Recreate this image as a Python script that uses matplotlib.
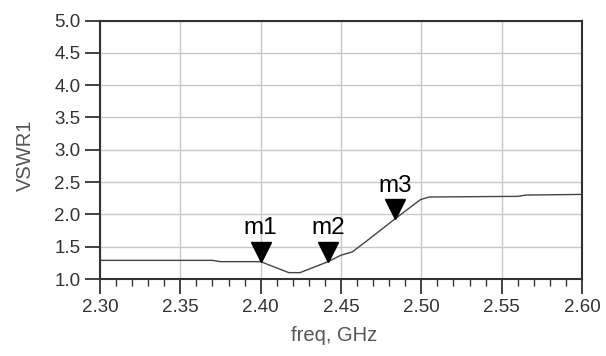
import matplotlib
matplotlib.use("Agg")
import matplotlib.pyplot as plt
from matplotlib.ticker import MultipleLocator
from matplotlib.transforms import offset_copy

plt.rcParams['font.family'] = ['Liberation Sans', 'DejaVu Sans']

# VSWR curve
freq = [2.300, 2.370, 2.375, 2.400, 2.4175, 2.4245, 2.442, 2.450, 2.457,
        2.466, 2.4835, 2.4995, 2.505, 2.560, 2.565, 2.600]
vswr = [1.29, 1.29, 1.27, 1.27, 1.10, 1.10, 1.27, 1.37, 1.42,
        1.59, 1.93, 2.23, 2.27, 2.28, 2.30, 2.31]

# markers
marker_names = ['m1', 'm2', 'm3']
marker_freq = [2.400, 2.442, 2.4835]
marker_vswr = [1.27, 1.27, 1.93]

x_ticks = [2.30, 2.35, 2.40, 2.45, 2.50, 2.55, 2.60]
y_ticks = [1.0, 1.5, 2.0, 2.5, 3.0, 3.5, 4.0, 4.5, 5.0]

fig = plt.figure(figsize=(6.06, 3.56), dpi=100)
ax = fig.add_axes([0.165, 0.216, 0.7954, 0.7264])

ax.plot(freq, vswr, color='#444444', lw=1.0, zorder=3)

# triangle tip sits on the curve, name above it
tri_tr = offset_copy(ax.transData, fig=fig, x=0, y=7, units='points')
for name, f, v in zip(marker_names, marker_freq, marker_vswr):
    ax.plot(f, v, marker='v', markersize=14, color='black',
            linestyle='none', transform=tri_tr, zorder=4)
    ax.annotate(name, xy=(f, v), xytext=(0, 16), textcoords='offset points',
                ha='center', va='bottom', fontsize=17.5, color='black', zorder=5)

ax.set_xlim(2.30, 2.60)
ax.set_ylim(1.0, 5.0)
ax.set_xticks(x_ticks)
ax.set_xticklabels(['%.2f' % t for t in x_ticks])
ax.set_yticks(y_ticks)
ax.set_yticklabels(['%.1f' % t for t in y_ticks])
ax.xaxis.set_minor_locator(MultipleLocator(0.01))

ax.grid(True, which='major', color='#c8c8c8', lw=1.0)
ax.set_axisbelow(True)

for s in ax.spines.values():
    s.set_color('#333333')
    s.set_linewidth(1.5)

ax.tick_params(axis='both', which='major', direction='out', length=11,
               width=1.3, color='#333333', labelsize=13.5, labelcolor='#333333',
               pad=3)
ax.tick_params(axis='x', which='minor', direction='out', length=5,
               width=1.0, color='#333333')

ax.set_xlabel('freq, GHz', fontsize=14.5, color='#555555', va='center')
ax.xaxis.set_label_coords(0.485, -0.217)
ax.set_ylabel('VSWR1', fontsize=14.5, color='#555555', va='center')
ax.yaxis.set_label_coords(-0.155, 0.48)

fig.savefig('out.png', dpi=100)
